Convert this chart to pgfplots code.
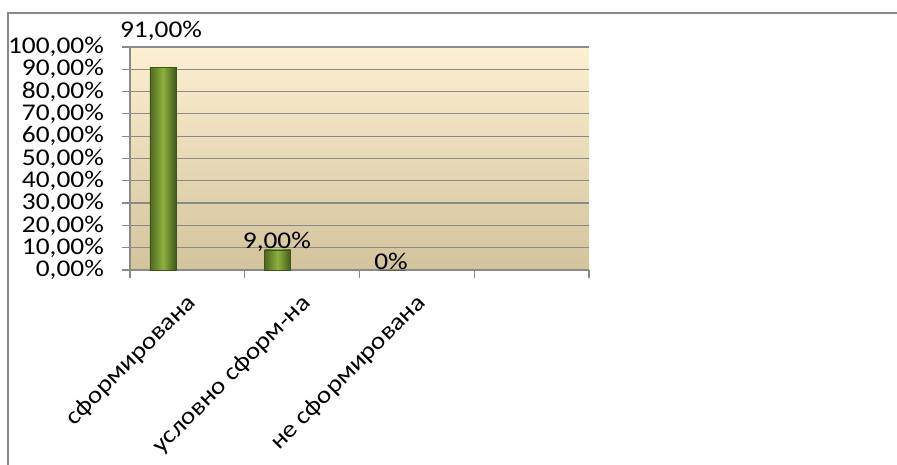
\documentclass[border=0pt]{standalone}
\usepackage{pgfplots}
\pgfplotsset{compat=1.18}
\usepackage{fontspec}
\setmainfont{Carlito}[FakeStretch=1.14]
\definecolor{gridgray}{HTML}{8A8A8A}
\definecolor{bgtop}{HTML}{FDEFD2}
\definecolor{bgmid}{HTML}{F0EBD6}
\definecolor{bgbot}{HTML}{D3C39C}
\definecolor{bardark}{HTML}{4E6A20}
\definecolor{barmid}{HTML}{8CB03E}
\newcommand{\chartfont}{\fontsize{24bp}{25bp}\selectfont}
\pgfplotsset{greenbar/.style={ybar, bar width=26bp, bar shift=0pt,
    draw=bardark!80!black, line width=0.6bp, mark=none,
    left color=bardark, right color=bardark!85!black, middle color=barmid}}
\begin{document}
\begin{tikzpicture}
\path[use as bounding box] (0,0) rectangle (897bp,465bp);
\draw[gridgray, line width=1.5bp] (8bp,0) -- (8bp,452bp) -- (897bp,452bp);
\begin{axis}[
    at={(130bp,195bp)}, anchor=south west,
    scale only axis,
    width=459bp, height=223bp,
    xmin=0, xmax=4, ymin=0, ymax=100,
    axis x line=bottom, axis y line=left,
    axis line style={gridgray, line width=1.2bp, -},
    every tick/.style={gridgray, line width=1.2bp},
    tick align=outside,
    major tick length=8bp,
    clip=false,
    tick label style={font=\chartfont},
    ytick={0,10,...,100},
    yticklabels={{0,00\%},{10,00\%},{20,00\%},{30,00\%},{40,00\%},{50,00\%},{60,00\%},{70,00\%},{80,00\%},{90,00\%},{100,00\%}},
    yticklabel style={anchor=east, inner sep=0pt, xshift=-18bp},
    ymajorgrids,
    grid style={gridgray, line width=1.2bp},
    xtick={0,1,2,3,4},
    xticklabels={},
    extra x ticks={0.5,1.5,2.5},
    extra x tick labels={сформирована,условно сформ-на,не сформирована},
    extra x tick style={major tick length=0pt, grid=none,
        xticklabel style={yshift=-22bp, xshift=-2bp, rotate=45, anchor=north east, inner sep=0pt}},
    axis background/.style={top color=bgtop, middle color=bgmid, bottom color=bgbot},
]
\addplot[greenbar] coordinates {(0.287,91)};
\addplot[greenbar] coordinates {(1.287,9)};
\addplot[greenbar] coordinates {(2.287,0)};
\addplot[only marks, mark=none, draw=none, nodes near coords, point meta=explicit symbolic,
    nodes near coords style={anchor=center, inner sep=0pt, text=black, font=\chartfont}]
coordinates {(0.27,107.2)[91,00\%] (1.28,12.8)[9,00\%] (2.275,3.8)[0\%]};
\end{axis}
\end{tikzpicture}
\end{document}
